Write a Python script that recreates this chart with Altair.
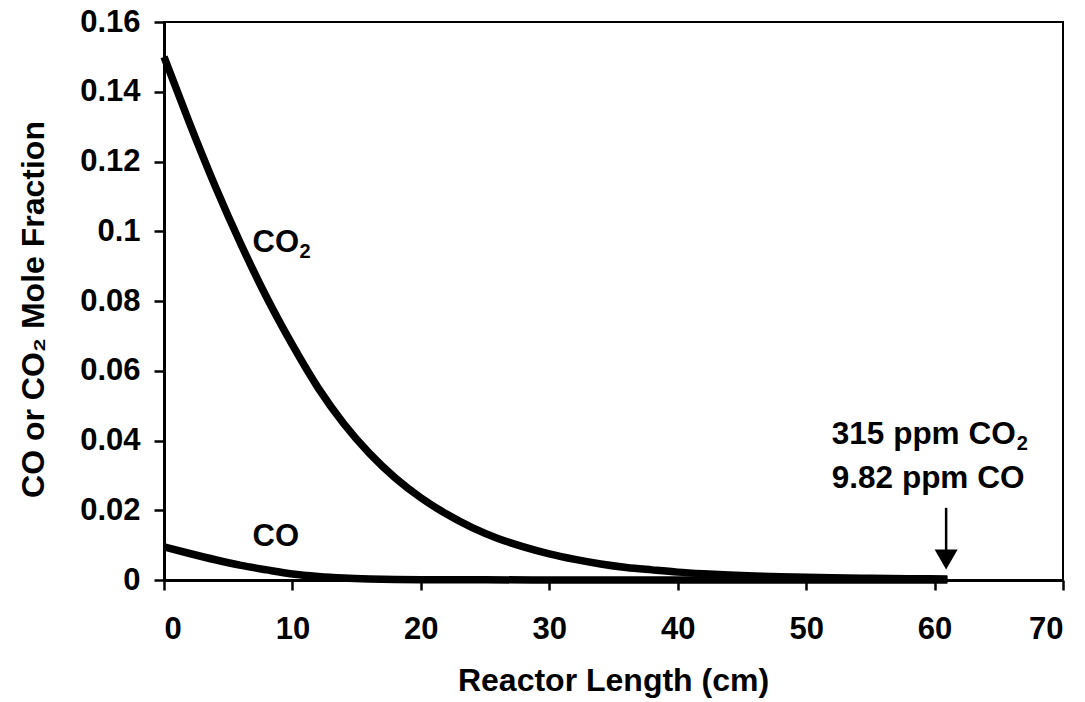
import altair as alt
import pandas as pd

# Reactor length (cm) and mole fractions
len_co2 = [0, 2, 4, 6, 8, 10, 12, 14, 16, 18, 20, 22, 24, 26, 28, 30, 32, 34, 36, 38, 40,
           42, 44, 46, 48, 50, 52, 55, 58, 61]
co2 = [0.150, 0.1309, 0.1128, 0.0962, 0.0810, 0.0674, 0.0551, 0.0448, 0.0363, 0.0293, 0.0236,
       0.0189, 0.0150, 0.0119, 0.0095, 0.0075, 0.0059, 0.0046, 0.0036, 0.0029, 0.00226,
       0.0018, 0.00144, 0.00117, 0.00095, 0.00078, 0.00065, 0.0005, 0.00039, 0.000315]

len_co = [0, 2, 4, 6, 8, 10, 12, 14, 16, 18, 20, 25, 30, 40, 50, 61]
co = [0.0095, 0.0076, 0.0058, 0.0042, 0.0029, 0.00174, 0.00104, 0.00059, 0.00032, 0.00016,
      0.00008, 0.00004, 0.00003, 0.00002, 0.000013, 0.00000982]

x_ticks = [0, 10, 20, 30, 40, 50, 60, 70]
y_ticks = [0, 0.02, 0.04, 0.06, 0.08, 0.1, 0.12, 0.14, 0.16]

# in-plot labels
lab_text = ["CO", "CO"]
lab_x = [6.9, 6.9]
lab_y = [0.094, 0.0098]
sub_x = [6.9]
sub_y = [0.094]

# annotation
ann_text = ["315 ppm CO", "9.82 ppm CO"]
ann_x = [52.0, 52.0]
ann_y = [0.0391, 0.0263]
arrow_x = [60.9]
arrow_top = [0.0207]
arrow_headstart = [0.0085]
arrow_head_y = [0.0059]

FONT = "Liberation Sans"

df_lines = pd.concat([
    pd.DataFrame({"len": len_co2, "frac": co2, "series": "CO2"}),
    pd.DataFrame({"len": len_co, "frac": co, "series": "CO"}),
])

xs = alt.Scale(domain=[0, 70], nice=False, zero=False)
ys = alt.Scale(domain=[0, 0.16], nice=False)

lines = alt.Chart(df_lines).mark_line(strokeWidth=7.5, color="black", interpolate="monotone").encode(
    x=alt.X("len:Q", scale=xs, axis=alt.Axis(values=x_ticks, title="Reactor Length (cm)",
                                            labelPadding=24, titleX=449, titleY=110,
                                            titleBaseline="alphabetic")),
    y=alt.Y("frac:Q", scale=ys, axis=alt.Axis(values=y_ticks, format="~g",
                                             title="CO or CO₂ Mole Fraction",
                                             labelPadding=14, titleX=-121, titleY=287,
                                             titleBaseline="alphabetic")),
    detail="series:N",
)

labels = alt.Chart(pd.DataFrame({"t": lab_text, "x": lab_x, "y": lab_y})).mark_text(
    align="left", baseline="alphabetic", font=FONT, fontWeight="bold", fontSize=31, color="black"
).encode(x="x:Q", y="y:Q", text="t:N")

subs = alt.Chart(pd.DataFrame({"x": sub_x, "y": sub_y, "t": ["2"]})).mark_text(
    align="left", baseline="alphabetic", font=FONT, fontWeight="bold", fontSize=20, color="black",
    dx=47, dy=6
).encode(x="x:Q", y="y:Q", text="t:N")

ann = alt.Chart(pd.DataFrame({"t": ann_text, "x": ann_x, "y": ann_y})).mark_text(
    align="left", baseline="alphabetic", font=FONT, fontWeight="bold", fontSize=31.5, color="black"
).encode(x="x:Q", y="y:Q", text="t:N")

ann_sub = alt.Chart(pd.DataFrame({"x": [ann_x[0]], "y": [ann_y[0]], "t": ["2"]})).mark_text(
    align="left", baseline="alphabetic", font=FONT, fontWeight="bold", fontSize=20, color="black",
    dx=185, dy=6
).encode(x="x:Q", y="y:Q", text="t:N")

shaft = alt.Chart(pd.DataFrame({"x": arrow_x, "y": arrow_top, "y2": arrow_headstart})).mark_rule(
    color="black", strokeWidth=2.5
).encode(x="x:Q", y="y:Q", y2="y2:Q")

head = alt.Chart(pd.DataFrame({"x": arrow_x, "y": arrow_head_y})).mark_point(
    shape="triangle-down", size=530, filled=True, color="black", opacity=1
).encode(x="x:Q", y="y:Q")

chart = alt.layer(lines, labels, subs, ann, ann_sub, shaft, head).properties(
    width=899, height=558,
    autosize=alt.AutoSizeParams(type="none"),
    padding={"left": 164, "top": 22, "right": 22, "bottom": 122},
    background="white",
).configure_view(stroke="black", strokeWidth=2).configure_axis(
    grid=False, domainColor="black", domainWidth=3, tickColor="black", tickWidth=2.5, tickSize=10,
    labelFont=FONT, labelFontWeight="bold", labelFontSize=31, labelColor="black",
    titleFont=FONT, titleFontWeight="bold", titleFontSize=32, titleColor="black",
)

chart.save("out.html", embed_options={"renderer": "svg", "actions": False})
